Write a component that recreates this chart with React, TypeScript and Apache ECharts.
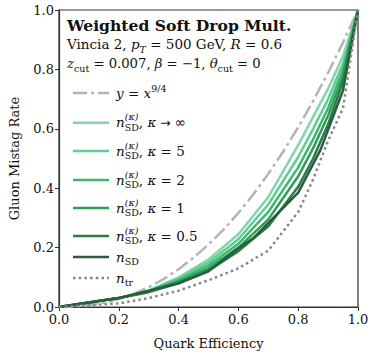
import React, { useEffect, useRef } from 'react';
import * as echarts from 'echarts';

const W = 374;
const H = 357;
const FONT = '"DejaVu Serif", serif';
const SANS = '"DejaVu Sans", sans-serif';

// ---- data ----
const X_TICKS = [0, 0.2, 0.4, 0.6, 0.8, 1.0];
const REF_X = [0, 0.05, 0.1, 0.15, 0.2, 0.25, 0.3, 0.35, 0.4, 0.45, 0.5, 0.55, 0.6, 0.65, 0.7, 0.75, 0.8, 0.85, 0.9, 0.95, 1];
const REF_Y = [0, 0.0012, 0.0056, 0.014, 0.0268, 0.0442, 0.0666, 0.0942, 0.1272, 0.1658, 0.2102, 0.2605, 0.3168, 0.3794, 0.4482, 0.5235, 0.6053, 0.6937, 0.7889, 0.891, 1];
const KAPPA_X = [0, 0.2, 0.3, 0.4, 0.5, 0.6, 0.7, 0.8, 0.85, 0.9, 0.95, 1];
const KAPPA_INF = [0, 0.03, 0.055, 0.1, 0.16, 0.245, 0.37, 0.545, 0.64, 0.735, 0.845, 1];
const KAPPA_5 = [0, 0.03, 0.055, 0.095, 0.15, 0.228, 0.345, 0.505, 0.6, 0.7, 0.82, 1];
const KAPPA_2 = [0, 0.03, 0.053, 0.09, 0.14, 0.213, 0.32, 0.47, 0.565, 0.67, 0.8, 1];
const KAPPA_1 = [0, 0.03, 0.052, 0.085, 0.13, 0.2, 0.295, 0.44, 0.535, 0.645, 0.78, 1];
const KAPPA_05 = [0, 0.03, 0.05, 0.08, 0.122, 0.188, 0.272, 0.405, 0.5, 0.615, 0.76, 1];
const NSD_X = [0, 0.2, 0.4, 0.5, 0.59, 0.65, 0.8, 0.875, 0.95, 1];
const NSD_Y = [0, 0.03, 0.08, 0.12, 0.19, 0.232, 0.385, 0.53, 0.73, 1];
const NTR_X = [0, 0.2, 0.3, 0.4, 0.5, 0.6, 0.7, 0.8, 0.85, 0.9, 0.95, 1];
const NTR_Y = [0, 0.012, 0.03, 0.055, 0.09, 0.13, 0.19, 0.32, 0.43, 0.56, 0.67, 1];
const KAPPA_LABELS = ['∞', '5', '2', '1', '0.5'];

// ---- styles ----
const COLORS = ['#b4b4b4', '#80d6ae', '#5fcc92', '#3db86d', '#2f9c5a', '#2b7b48', '#2d5c3d', '#868686'];
const DASHES: any[] = [[14, 4, 3, 4], 'solid', 'solid', 'solid', 'solid', 'solid', 'solid', [2.5, 3.2]];
const LW = 2.5;

type Seg = { t: string; it?: boolean; bf?: boolean; size?: number; dy?: number; stack?: boolean; fam?: string };

let _ctx: CanvasRenderingContext2D | null = null;
function fontStr(s: Seg, size: number) {
  return `${s.it ? 'italic ' : ''}${s.bf ? 'bold ' : ''}${size}px ${s.fam ?? FONT}`;
}
function measure(s: Seg, size: number) {
  if (!_ctx) _ctx = document.createElement('canvas').getContext('2d');
  _ctx!.font = fontStr(s, size);
  return _ctx!.measureText(s.t).width;
}

function buildRun(segs: Seg[], x0: number, baseline: number, baseSize: number) {
  const els: any[] = [];
  let x = x0;
  let prevStart = x0;
  let prevW = 0;
  segs.forEach((s) => {
    const size = s.size ?? baseSize;
    const w = measure(s, size);
    let sx: number;
    if (s.stack) {
      sx = prevStart;
      x = prevStart + Math.max(prevW, w);
    } else {
      sx = x;
      x += w;
      prevStart = sx;
      prevW = w;
    }
    els.push({
      type: 'text',
      x: sx,
      y: baseline + (s.dy ?? 0) - 0.36 * size,
      silent: true,
      style: {
        text: s.t,
        fontFamily: s.fam ?? FONT,
        fontSize: size,
        fontStyle: s.it ? 'italic' : 'normal',
        fontWeight: s.bf ? 'bold' : 'normal',
        fill: '#111',
        align: 'left',
        verticalAlign: 'middle',
      },
    });
  });
  return els;
}

const SUB = 9.5;

function legendLabel(i: number): Seg[] {
  if (i === 0) {
    return [{ t: 'y', it: true }, { t: ' = ' }, { t: 'x', it: true }, { t: '9/4', size: SUB, dy: -6 }];
  }
  if (i >= 1 && i <= 5) {
    const k = KAPPA_LABELS[i - 1];
    const tail: Seg[] =
      k === '∞'
        ? [{ t: ' → ', fam: SANS, size: 12.5 }, { t: '∞', fam: SANS, size: 13.5 }]
        : [{ t: ' = ' + k }];
    return [
      { t: 'n', it: true },
      { t: '(κ)', it: true, size: SUB, dy: -7 },
      { t: 'SD', size: SUB, dy: 3.5, stack: true },
      { t: ', ' },
      { t: 'κ', it: true },
      ...tail,
    ];
  }
  if (i === 6) return [{ t: 'n', it: true }, { t: 'SD', size: SUB, dy: 3.5 }];
  return [{ t: 'n', it: true }, { t: 'tr', size: SUB, dy: 3.5 }];
}

const LEGEND_Y = [93, 122.7, 151, 180, 208, 236, 257, 278];

export default function App() {
  const ref = useRef<HTMLDivElement>(null);
  useEffect(() => {
    if (!ref.current) return;
    const chart = echarts.init(ref.current, undefined, { renderer: 'svg' });
    const zip = (xs: number[], ys: number[]) => xs.map((x, i) => [x, ys[i]]);
    const seriesData = [
      zip(REF_X, REF_Y),
      zip(KAPPA_X, KAPPA_INF),
      zip(KAPPA_X, KAPPA_5),
      zip(KAPPA_X, KAPPA_2),
      zip(KAPPA_X, KAPPA_1),
      zip(KAPPA_X, KAPPA_05),
      zip(NSD_X, NSD_Y),
      zip(NTR_X, NTR_Y),
    ];
    const series = seriesData.map((d, i) => ({
      type: 'line',
      data: d,
      showSymbol: false,
      symbol: 'none',
      silent: true,
      z: 2 + i,
      lineStyle: { color: COLORS[i], width: LW, type: DASHES[i], cap: 'butt' },
    }));

    const graphics: any[] = [];
    graphics.push(...buildRun([{ t: 'Weighted Soft Drop Mult.', bf: true }], 67, 31, 15.6));
    graphics.push(
      ...buildRun(
        [
          { t: 'Vincia 2, ' },
          { t: 'p', it: true },
          { t: 'T', it: true, size: SUB, dy: 3.5 },
          { t: ' = 500 GeV, ' },
          { t: 'R', it: true },
          { t: ' = 0.6' },
        ],
        67,
        49,
        13.5
      )
    );
    graphics.push(
      ...buildRun(
        [
          { t: 'z', it: true },
          { t: 'cut', size: SUB, dy: 3.5 },
          { t: ' = 0.007, ' },
          { t: 'β', it: true },
          { t: ' = −1, ' },
          { t: 'θ', it: true },
          { t: 'cut', size: SUB, dy: 3.5 },
          { t: ' = 0' },
        ],
        67,
        68,
        13.2
      )
    );
    LEGEND_Y.forEach((ly, i) => {
      graphics.push({
        type: 'line',
        silent: true,
        shape: { x1: 73, y1: ly, x2: 109, y2: ly },
        style: {
          stroke: COLORS[i],
          lineWidth: LW,
          lineDash: Array.isArray(DASHES[i]) ? DASHES[i] : null,
        },
      });
      graphics.push(...buildRun(legendLabel(i), 116, ly + 4.5, 13.5));
    });

    chart.setOption({
      animation: false,
      backgroundColor: '#fff',
      grid: {
        left: 55,
        right: 16,
        top: 10,
        bottom: 50,
        show: true,
        borderColor: '#333',
        borderWidth: 1.2,
        backgroundColor: 'transparent',
      },
      xAxis: {
        type: 'value',
        min: 0,
        max: 1,
        interval: 0.2,
        name: 'Quark Efficiency',
        nameLocation: 'middle',
        nameGap: 30,
        nameTextStyle: { fontFamily: FONT, fontSize: 13, color: '#111' },
        axisLine: { show: true, onZero: false, lineStyle: { color: '#333', width: 1.2 } },
        axisTick: { show: true, inside: false, length: 4, lineStyle: { color: '#333' } },
        axisLabel: {
          fontFamily: FONT,
          fontSize: 13,
          color: '#111',
          margin: 6,
          formatter: (v: number) => v.toFixed(1),
          customValues: X_TICKS,
        },
        splitLine: { show: false },
      },
      yAxis: {
        type: 'value',
        min: 0,
        max: 1,
        interval: 0.2,
        name: 'Gluon Mistag Rate',
        nameLocation: 'middle',
        nameGap: 38,
        nameTextStyle: { fontFamily: FONT, fontSize: 13, color: '#111' },
        axisLine: { show: true, onZero: false, lineStyle: { color: '#333', width: 1.2 } },
        axisTick: { show: true, inside: false, length: 4, lineStyle: { color: '#333' } },
        axisLabel: {
          fontFamily: FONT,
          fontSize: 13,
          color: '#111',
          margin: 5,
          formatter: (v: number) => v.toFixed(1),
        },
        splitLine: { show: false },
      },
      series,
      graphic: graphics,
    });
    return () => chart.dispose();
  }, []);
  return <div ref={ref} style={{ position: 'fixed', left: 0, top: 0, width: W, height: H }} />;
}
